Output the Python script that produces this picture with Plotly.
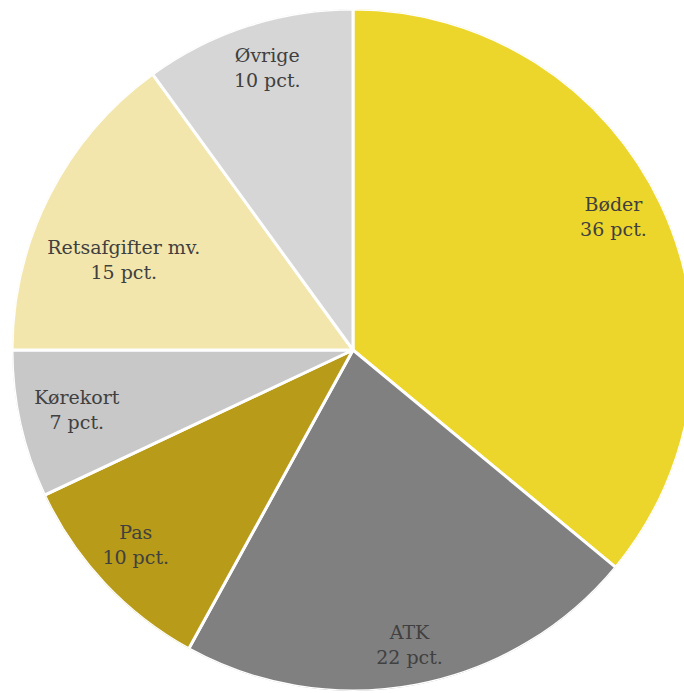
import plotly.graph_objects as go

categories = ["Bøder", "ATK", "Pas", "Kørekort", "Retsafgifter mv.", "Øvrige"]
values = [36, 22, 10, 7, 15, 10]
colors = ["#EDD62B", "#808080", "#B89B18", "#C8C8C8", "#F3E6AC", "#D6D6D6"]

texts = [f"{c}<br>{v} pct." for c, v in zip(categories, values)]

# label placement (layout, not data): radial fraction and angular nudge per slice
label_r = [0.855, 0.885, 0.86, 0.83, 0.72, 0.86]
label_dtheta = [-1.5, 0, 1, 0, -6, 1]

total = sum(values)
mid_theta = []
widths = []
acc = 0
for v in values:
    mid_theta.append((acc + v / 2) / total * 360)
    widths.append(v / total * 360)
    acc += v
label_theta = [t + d for t, d in zip(mid_theta, label_dtheta)]

FONT = "DejaVu Serif"

fig = go.Figure()
fig.add_trace(go.Barpolar(
    r=[1] * len(values),
    theta=mid_theta,
    width=widths,
    marker=dict(color=colors, line=dict(color="white", width=3)),
    customdata=values,
    hovertext=categories,
    hovertemplate="%{hovertext}: %{customdata} pct.<extra></extra>",
    showlegend=False,
))
fig.add_trace(go.Scatterpolar(
    r=label_r,
    theta=label_theta,
    mode="text",
    text=texts,
    textposition="middle center",
    textfont=dict(family=FONT, size=19, color="#404040"),
    hoverinfo="skip",
    showlegend=False,
    cliponaxis=False,
))

fig.update_layout(
    width=700, height=693,
    margin=dict(l=12, r=6, t=9, b=2),
    paper_bgcolor="white",
    plot_bgcolor="white",
    showlegend=False,
    font=dict(family=FONT),
    polar=dict(
        domain=dict(x=[0, 1], y=[0, 1]),
        bgcolor="rgba(0,0,0,0)",
        bargap=0,
        barmode="overlay",
        radialaxis=dict(range=[0, 1], visible=False, showgrid=False, showline=False, ticks=""),
        angularaxis=dict(direction="clockwise", rotation=90, visible=False, showgrid=False,
                         showline=False, ticks=""),
    ),
)

fig.write_html(
    "out.html",
    config={"displayModeBar": False},
    post_script="document.documentElement.style.overflow='hidden';document.body.style.overflow='hidden';document.body.style.margin='0';",
)
